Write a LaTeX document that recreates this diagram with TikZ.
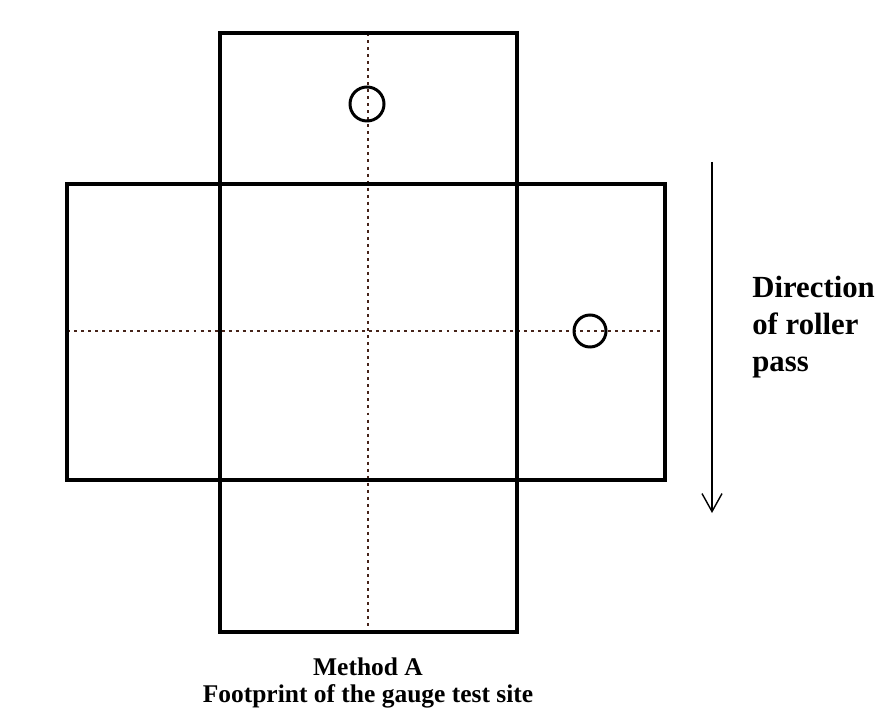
\documentclass[tikz,border=0pt]{standalone}
\usepackage{fontspec}
\setmainfont{Liberation Serif}
\usetikzlibrary{arrows.meta}
\definecolor{dotbrown}{RGB}{70,35,25}
\tikzset{
  plot edge/.style={line width=2.6pt,line join=miter},
  centre line/.style={dotbrown,line width=1.6pt,dash pattern=on 1.7pt off 2.3pt},
  gauge spot/.style={line width=1.7pt},
  roll arrow/.style={line width=0.8pt,-{Straight Barb[length=3.6mm,width=4mm,line width=0.8pt]}}
}
\begin{document}
\begin{tikzpicture}[x=0.02cm,y=-0.02cm]
\useasboundingbox[fill=white] (0,0) rectangle (878,712);
\coordinate (top-nw) at (220,33);
\coordinate (top-se) at (517,184);
\coordinate (mid-nw) at (67,184);
\coordinate (mid-se) at (665,480);
\coordinate (bot-nw) at (220,480);
\coordinate (bot-se) at (517,632);
\draw[centre line] (368,33) coordinate (v-top) -- (368,632) coordinate (v-bot);
\draw[centre line] (67,331) coordinate (h-left) -- (665,331) coordinate (h-right);
\draw[plot edge] (top-nw) rectangle (top-se);
\draw[plot edge] (mid-nw) rectangle (mid-se);
\draw[plot edge] (bot-nw) rectangle (bot-se);
\draw[plot edge] (top-nw |- mid-nw) -- (bot-nw);
\draw[plot edge] (top-se) -- (bot-se |- mid-se);
\draw[gauge spot] (367,104) circle (17);
\draw[gauge spot] (590,331) circle (16);
\draw[roll arrow] (712,162) coordinate (arrow-start) -- (712,513) coordinate (arrow-end);
\node[anchor=north west,inner sep=0pt,align=left,font=\bfseries\fontsize{17.5}{21}\selectfont] (direction) at (752,276) {Direction\\of roller\\pass};
\node[anchor=north,inner sep=0pt,align=center,font=\bfseries\fontsize{14.5}{15.9}\selectfont] (caption) at (368,657) {Method A\\Footprint of the gauge test site};
\end{tikzpicture}
\end{document}
